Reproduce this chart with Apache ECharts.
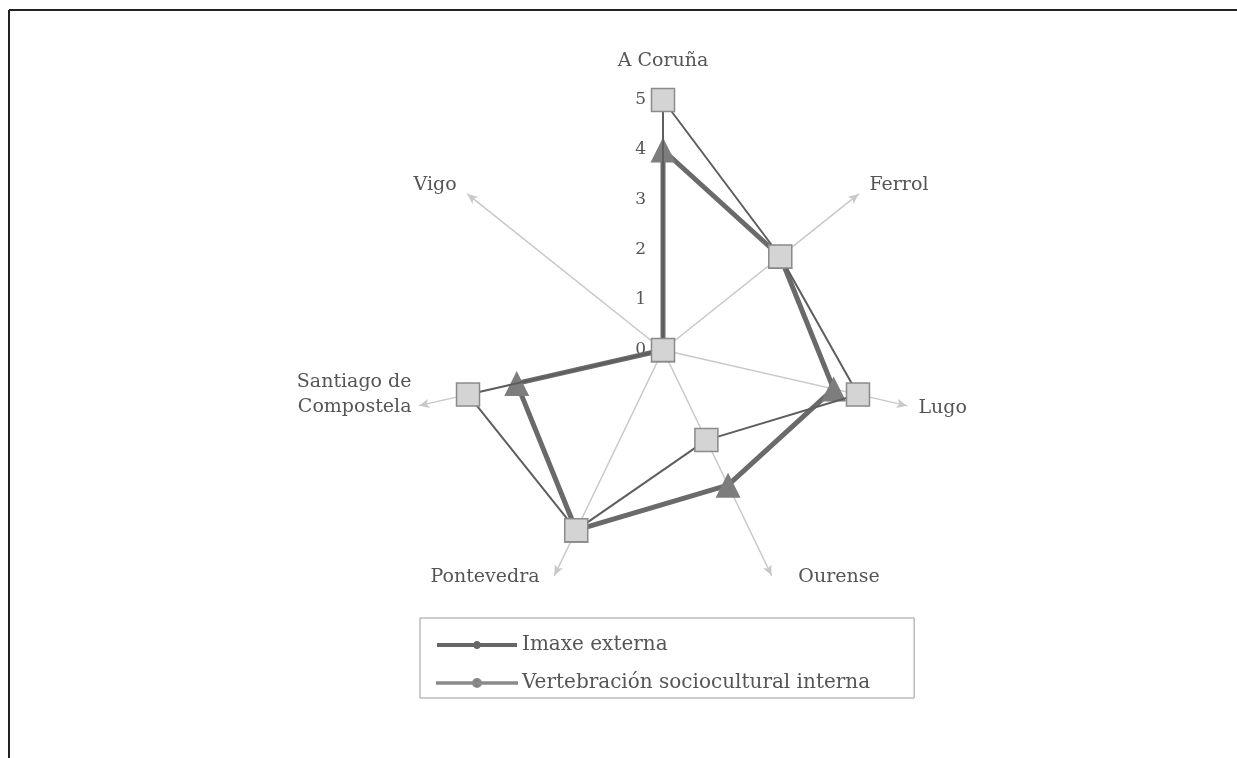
<!DOCTYPE html>
<html>
<head>
<meta charset="utf-8">
<script src="https://cdn.jsdelivr.net/npm/echarts@6/dist/echarts.min.js"></script>
<style>html,body{margin:0;padding:0;background:#fff}#c{width:1237px;height:758px}</style>
</head>
<body>
<div id="c"></div>
<script>
// Categories listed clockwise from the top
const categories = ['A Coruña', 'Ferrol', 'Lugo', 'Ourense', 'Pontevedra', 'Santiago de\nCompostela', 'Vigo'];
const imaxeExterna = [4, 3, 3.5, 3, 4, 3, 0];
const vertebracion = [5, 3, 4, 2, 4, 4, 0];
const seriesNames = ['Imaxe externa', 'Vertebración sociocultural interna'];
const tickMax = 5;

// ECharts radar places indicators counter-clockwise; reorder to get clockwise layout
const order = [0, 6, 5, 4, 3, 2, 1];
const pick = arr => order.map(i => arr[i]);

const FONT = '"DejaVu Serif", "Liberation Serif", serif';

// per-category label placement tweaks (same clockwise order as categories)
const nameTweaks = [
  { nameGap: 26 },
  { nameGap: 14 },
  { nameGap: 12 },
  { nameGap: 2, nameTextStyle: { verticalAlign: 'middle', align: 'left', padding: [0, 0, 0, 26] } },
  { nameGap: 2, nameTextStyle: { verticalAlign: 'middle', align: 'right', padding: [0, 14, 0, 0] } },
  { nameGap: 8, nameTextStyle: { verticalAlign: 'middle', align: 'right' } },
  { nameGap: 14 }
];

const indicators = pick(categories).map((name, k) => {
  const ind = Object.assign({ name: name, min: 0, max: tickMax }, nameTweaks[order[k]]);
  if (k === 0) ind.axisLabel = { show: true };
  return ind;
});

const lineIconThick = 'path://M0,5 L80,5 L80,9 L0,9 Z M44,7 C44,9.2 42.2,11 40,11 C37.8,11 36,9.2 36,7 C36,4.8 37.8,3 40,3 C42.2,3 44,4.8 44,7 Z';
const lineIconThin = 'path://M0,6.2 L80,6.2 L80,7.8 L0,7.8 Z M44,7 C44,9.2 42.2,11 40,11 C37.8,11 36,9.2 36,7 C36,4.8 37.8,3 40,3 C42.2,3 44,4.8 44,7 Z';

const chart = echarts.init(document.getElementById('c'), null, { renderer: 'canvas' });
chart.setOption({
  backgroundColor: '#ffffff',
  animation: false,
  graphic: [
    { type: 'line', shape: { x1: 9, y1: 10, x2: 1237, y2: 10 }, style: { stroke: '#222', lineWidth: 2 } },
    { type: 'line', shape: { x1: 9, y1: 10, x2: 9, y2: 758 }, style: { stroke: '#222', lineWidth: 2 } }
  ],
  legend: {
    orient: 'vertical',
    left: 420,
    top: 618,
    padding: [17, 44, 5, 16],
    itemGap: 18,
    itemWidth: 80,
    itemHeight: 14,
    borderColor: '#999',
    borderWidth: 1,
    textStyle: { fontFamily: FONT, fontSize: 20, color: '#555' },
    data: [
      { name: seriesNames[0], icon: lineIconThick, itemStyle: { color: '#666' } },
      { name: seriesNames[1], icon: lineIconThin, itemStyle: { color: '#7a7a7a' } }
    ]
  },
  radar: {
    center: [663, 350],
    radius: 250,
    startAngle: 90,
    splitNumber: 5,
    shape: 'polygon',
    nameGap: 14,
    axisName: {
      fontFamily: FONT, fontSize: 19, color: '#555', lineHeight: 25,
      // a blank trailing line lifts the two-line label to sit above its axis
      formatter: v => (v.indexOf('\n') >= 0 ? v + '\n ' : v)
    },
    axisLine: { lineStyle: { color: '#c8c8c8', width: 1.5 }, symbol: ['none', 'arrow'], symbolSize: [7, 10] },
    axisTick: { show: false },
    axisLabel: { show: false, fontFamily: FONT, fontSize: 17, color: '#555', margin: 17 },
    splitLine: { show: false },
    splitArea: { show: false },
    indicator: indicators
  },
  series: [
    {
      type: 'radar',
      z: 2,
      data: [{
        name: seriesNames[0],
        value: pick(imaxeExterna),
        symbol: 'triangle',
        symbolSize: 25,
        itemStyle: { color: '#7d7d7d' },
        lineStyle: { color: '#6a6a6a', width: 5 }
      }]
    },
    {
      type: 'radar',
      z: 3,
      data: [{
        name: seriesNames[1],
        value: pick(vertebracion),
        symbol: 'rect',
        symbolSize: 23,
        itemStyle: { color: '#d4d4d4', borderColor: '#8a8a8a', borderWidth: 1.5 },
        lineStyle: { color: '#5e5e5e', width: 2 }
      }]
    }
  ]
});
</script>
</body>
</html>
